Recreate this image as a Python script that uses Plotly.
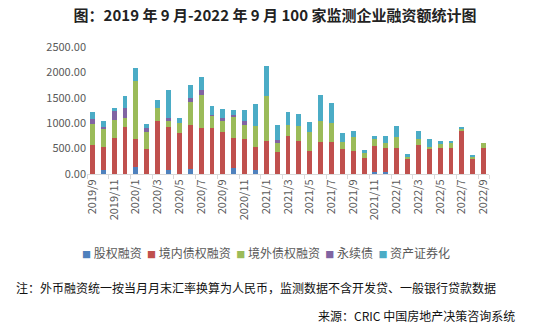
import plotly.graph_objects as go

months = ["2019/9","2019/10","2019/11","2019/12","2020/1","2020/2","2020/3","2020/4","2020/5","2020/6",
          "2020/7","2020/8","2020/9","2020/10","2020/11","2020/12","2021/1","2021/2","2021/3","2021/4",
          "2021/5","2021/6","2021/7","2021/8","2021/9","2021/10","2021/11","2021/12","2022/1","2022/2",
          "2022/3","2022/4","2022/5","2022/6","2022/7","2022/8","2022/9"]

equity   = [0, 70, 0, 0, 130, 0, 0, 70, 0, 90,
            0, 0, 0, 110, 0, 80, 0, 0, 0, 0,
            0, 0, 0, 0, 0, 0, 45, 30, 0, 0,
            0, 0, 0, 0, 0, 0, 0]
dom_debt = [572, 456, 717, 934, 567, 500, 1053, 851, 816, 877,
            901, 915, 829, 594, 684, 460, 658, 441, 750, 658,
            461, 638, 638, 500, 461, 309, 508, 477, 507, 309,
            572, 507, 520, 520, 849, 296, 520]
ovs_debt = [408, 375, 349, 171, 1126, 336, 243, 125, 184, 441,
            645, 230, 217, 428, 283, 408, 869, 177, 217, 290,
            375, 408, 375, 138, 263, 99, 131, 111, 230, 33,
            112, 20, 72, 85, 52, 46, 85]
perpetual = [100, 20, 178, 191, 0, 65, 0, 53, 0, 86,
             99, 20, 53, 33, 86, 0, 0, 53, 0, 0,
             0, 0, 0, 0, 0, 0, 0, 0, 0, 0,
             0, 0, 0, 0, 0, 0, 0]
abs_sec  = [132, 125, 59, 244, 269, 79, 158, 559, 99, 263,
            257, 164, 184, 98, 210, 434, 592, 296, 263, 236,
            190, 513, 389, 171, 131, 66, 66, 132, 211, 53,
            165, 164, 59, 46, 33, 33, 0]

names = ["股权融资", "境内债权融资", "境外债权融资", "永续债", "资产证券化"]
colors = ["#4F81BD", "#C0504D", "#9BBB59", "#8064A2", "#4BACC6"]
series = [equity, dom_debt, ovs_debt, perpetual, abs_sec]

fig = go.Figure()
for n, c, s in zip(names, colors, series):
    fig.add_trace(go.Bar(x=months, y=s, name=n, showlegend=False,
                         marker=dict(color=c, line=dict(width=0))))

W, H = 542, 334
L, R, T, B = 87, 53, 47, 160
pw, ph = W - L - R, H - T - B

def px(x):
    return (x - L) / pw

def py(y):
    return (H - B - y) / ph

legend_text = "&nbsp;&nbsp;".join(
    f"<span style='color:{c};font-size:9px'>■</span> {n}" for n, c in zip(names, colors)
)

fig.update_layout(
    width=W, height=H,
    margin=dict(l=L, r=R, t=T, b=B),
    paper_bgcolor="white", plot_bgcolor="white",
    barmode="stack", bargap=0.55,
    font=dict(family="Noto Sans CJK SC", color="#595959", size=11),
    title=dict(text="<b>图：2019 年 9 月-2022 年 9 月 100 家监测企业融资额统计图</b>",
               x=275 / W, xref="container", xanchor="center",
               y=1 - 15.5 / H, yref="container", yanchor="middle",
               font=dict(size=15, color="#222222", family="Noto Sans CJK SC")),
    xaxis=dict(type="category", tickangle=-90, tickmode="array", tickvals=months[::2],
               showline=True, linecolor="#d9d9d9", linewidth=1,
               ticks="outside", tickson="boundaries", ticklen=4, tickcolor="#d9d9d9",
               tickfont=dict(size=11, color="#595959"), showgrid=False),
    yaxis=dict(range=[0, 2500], dtick=500, tickformat=".2f", showgrid=False,
               zeroline=False, showline=False, ticks="",
               tickfont=dict(size=11, color="#595959")),
    annotations=[
        dict(text=legend_text,
             x=px(265.5), y=py(252), xref="paper", yref="paper", xanchor="center", yanchor="middle",
             showarrow=False, font=dict(size=12, color="#595959")),
        dict(text="注：外币融资统一按当月月末汇率换算为人民币，监测数据不含开发贷、一般银行贷款数据",
             x=px(255.7), y=py(287), xref="paper", yref="paper", xanchor="center", yanchor="middle",
             showarrow=False, font=dict(size=12, color="#111111")),
        dict(text="来源：CRIC 中国房地产决策咨询系统",
             x=px(517), y=py(315.6), xref="paper", yref="paper", xanchor="right", yanchor="middle",
             showarrow=False, font=dict(size=12, color="#111111")),
    ],
)

fig.write_html("out.html")
